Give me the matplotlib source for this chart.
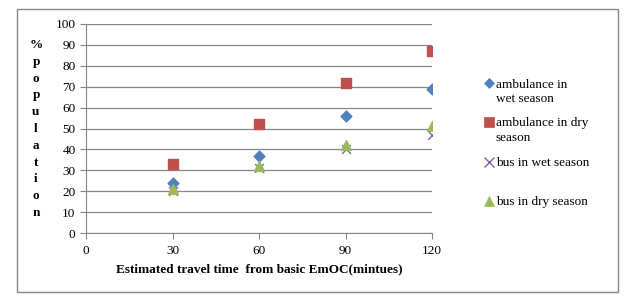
import numpy as np
import matplotlib.pyplot as plt
from matplotlib.patches import Rectangle
from matplotlib.lines import Line2D

plt.rcParams['font.family'] = ['Liberation Serif', 'DejaVu Serif']

minutes = [30, 60, 90, 120]
amb_wet = [24, 37, 56, 69]
amb_dry = [33, 52, 72, 87]
bus_wet = [20, 31, 40, 47]
bus_dry = [21, 32, 42, 51]

labels = ['ambulance in\nwet season', 'ambulance in dry\nseason', 'bus in wet season', 'bus in dry season']
colors = ['#4F81BD', '#C0504D', '#8064A2', '#9BBB59']
markers = ['D', 's', 'x', '^']

fig = plt.figure(figsize=(6.39, 3.00), dpi=100)
ax = fig.add_axes([86/639, 1 - 233/300, (432-86)/639, (233-24)/300])

ax.scatter(minutes, amb_wet, marker='D', s=30, color=colors[0], zorder=3)
ax.scatter(minutes, amb_dry, marker='s', s=55, color=colors[1], zorder=3)
ax.scatter(minutes, bus_wet, marker='x', s=40, color=colors[2], linewidths=1, zorder=3)
ax.scatter(minutes, bus_dry, marker='^', s=50, color=colors[3], zorder=4)

ax.set_xlim(0, 120)
ax.set_ylim(0, 100)
ax.set_xticks([0, 30, 60, 90, 120])
ax.set_yticks(np.arange(0, 101, 10))
ax.grid(axis='y', color='#868686', linewidth=0.9)
ax.set_axisbelow(True)
for s in ['top', 'right']:
    ax.spines[s].set_visible(False)
for s in ['left', 'bottom']:
    ax.spines[s].set_color('#868686')
ax.tick_params(axis='both', colors='#868686', labelcolor='black', labelsize=9.5, length=4, direction='out')
ax.tick_params(axis='x', pad=5)

ax.set_xlabel('Estimated travel time  from basic EmOC(mintues)', fontsize=9.5, fontweight='bold', labelpad=4)
fig.text(36/639, 1 - 129/300, '%\np\no\np\nu\nl\na\nt\ni\no\nn', ha='center', va='center',
         fontsize=9.5, fontweight='bold', linespacing=1.53)

# legend drawn by hand so markers sit on the first text line, like Excel
rows = [83, 122, 162, 201]
msize = [5.5, 7, 6.5, 7]
for lab, c, m, ms, yy in zip(labels, colors, markers, msize, rows):
    fig.add_artist(Line2D([489/639], [1 - yy/300], marker=m, color=c, markersize=ms,
                          markeredgewidth=1 if m == 'x' else 0.5, linestyle='none',
                          transform=fig.transFigure))
    fig.text(496/639, 1 - (yy - 4.5)/300, lab, ha='left', va='top', fontsize=9.5, linespacing=1.25)

fig.patches.append(Rectangle((17/639, 1 - 292/300), (618-17)/639, (292-9)/300,
                             transform=fig.transFigure, fill=False, edgecolor='#868686', linewidth=1))

fig.savefig('out.png', dpi=100)
